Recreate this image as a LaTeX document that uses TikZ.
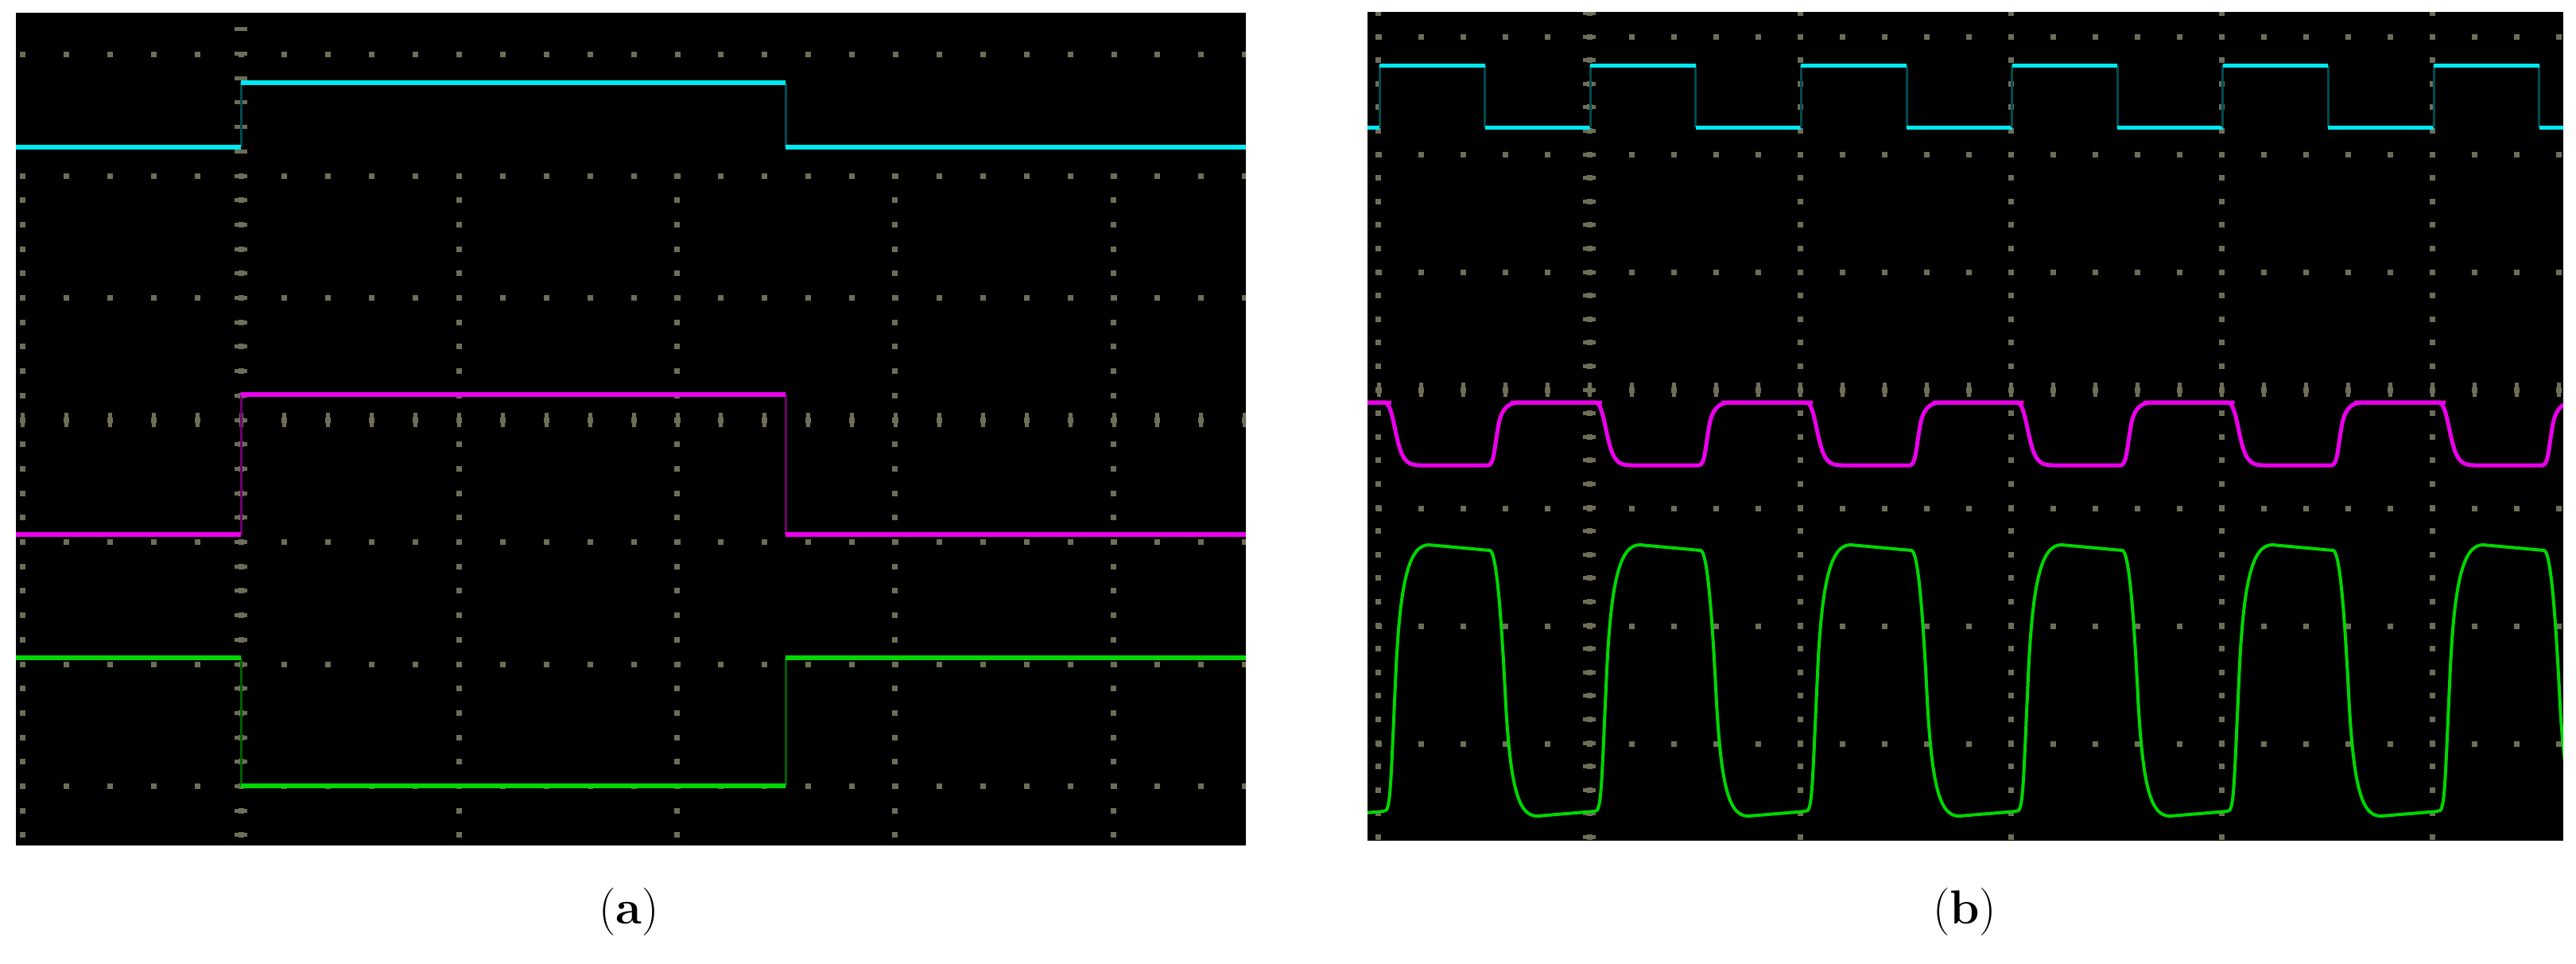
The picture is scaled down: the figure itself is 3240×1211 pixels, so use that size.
\documentclass[tikz,border=0pt]{standalone}
\begin{document}
\begin{tikzpicture}[x=1pt,y=-1pt,
  tcyan/.style={draw=cyanc,line width=6pt},
  tmag/.style={draw=magc,line width=6pt},
  tgreen/.style={draw=greenc,line width=6pt},
  tdim/.style={line width=3pt},
  lbl/.style={font=\fontsize{60}{66}\selectfont,inner sep=0pt}]
\definecolor{gridc}{RGB}{110,110,88}
\definecolor{cyanc}{RGB}{0,232,240}
\definecolor{magc}{RGB}{235,0,235}
\definecolor{greenc}{RGB}{0,215,0}
\definecolor{cyand}{RGB}{0,75,80}
\definecolor{magd}{RGB}{110,0,110}
\definecolor{greend}{RGB}{0,95,0}
\useasboundingbox (0,0) rectangle (3240,1211);
\fill[white] (0,0) rectangle (3240,1211);
% ---------- panel (a) ----------
\node[fill=black,minimum width=1547pt,minimum height=1047pt,inner sep=0pt,anchor=north west] (pa) at (20,16) {};
\begin{scope}
\clip (20,16) rectangle (1567,1063);
\foreach \y in {68,221,374,528,681,835,988}
  \foreach \i in {-6,...,30} \fill[gridc] ({303+54.9*\i-3.5},\y-3.5) rectangle +(7,7);
\foreach \x in {28,303,577,851,1125,1400}
  \foreach \j in {-10,...,36} \fill[gridc] (\x-3.5,{528+30.7*\j-3.5}) rectangle +(7,7);
\foreach \j in {-20,...,20} \fill[gridc] (295,{528+30.7*\j-2.5}) rectangle +(16,5);
\foreach \i in {-6,...,30} \fill[gridc] ({303+54.9*\i-2.5},519) rectangle +(5,18);
% traces
\draw[cyand,tdim] (303,185) -- (303,104) (988,104) -- (988,185);
\draw[magd,tdim] (303,672) -- (303,496) (988,496) -- (988,672);
\draw[greend,tdim] (303,827) -- (303,988) (988,988) -- (988,827);
\draw[tcyan] (20,185) -- (303,185) (303,104) -- (988,104) (988,185) -- (1567,185);
\draw[tmag] (20,672) -- (303,672) (303,496) -- (988,496) (988,672) -- (1567,672);
\draw[tgreen] (20,827) -- (303,827) (303,988) -- (988,988) (988,827) -- (1567,827);
\end{scope}
\node[lbl] (la) at (791,1147) {(\textbf{a})};
% ---------- panel (b) ----------
\node[fill=black,minimum width=1504pt,minimum height=1042pt,inner sep=0pt,anchor=north west] (pb) at (1720,15) {};
\begin{scope}
\clip (1720,15) rectangle (3224,1057);
\foreach \y in {46,194,342,490,639,787,935}
  \foreach \i in {-6,...,30} \fill[gridc] ({1999+53*\i-3.5},\y-3.5) rectangle +(7,7);
\foreach \x in {1733,1999,2264,2529,2794,3059}
  \foreach \j in {-17,...,20} \fill[gridc] (\x-3.5,{490+29.6*\j-3.5}) rectangle +(7,7);
\foreach \j in {-17,...,20} \fill[gridc] (1991,{490+29.6*\j-2.5}) rectangle +(16,5);
\foreach \i in {-6,...,30} \fill[gridc] ({1999+53*\i-2.5},481) rectangle +(5,18);
% cyan square wave
\foreach \k in {0,...,5} {
  \pgfmathsetmacro{\r}{1735+265.2*\k}
  \pgfmathsetmacro{\f}{\r+132.6}
  \draw[cyand,tdim] (\r,160) -- (\r,82) (\f,82) -- (\f,160);
  \draw[tcyan,line width=5pt] (\r,82) -- (\f,82) (\f,160) -- (\r+265.2,160);
}
\draw[tcyan,line width=5pt] (1715,160) -- (1735,160);
% magenta
\foreach \k in {-1,...,5} {
  \pgfmathsetmacro{\r}{1735+265.2*\k}
  \pgfmathsetmacro{\f}{\r+132.6}
  \draw[tmag,line width=5pt,line join=round] (\r-100,506) -- (\r+6,506)
    .. controls (\r+16,506) and (\r+18,540) .. (\r+26,565)
    .. controls (\r+32,583) and (\r+40,585) .. (\r+52,585) -- (\f+4,585)
    .. controls (\f+12,585) and (\f+12,560) .. (\f+18,530)
    .. controls (\f+23,510) and (\f+32,506) .. (\f+46,506) -- (\r+280,506);
}
% green
\foreach \k in {-1,...,5} {
  \pgfmathsetmacro{\r}{1735+265.2*\k}
  \pgfmathsetmacro{\f}{\r+132.6}
  \draw[tgreen,line width=4pt,line join=round] (\r+6,1020)
    .. controls (\r+14,1020) and (\r+14,990) .. (\r+20,860)
    .. controls (\r+25,740) and (\r+35,685) .. (\r+62,685)
    -- (\f+6,692)
    .. controls (\f+14,692) and (\f+20,760) .. (\f+26,880)
    .. controls (\f+32,990) and (\f+42,1026) .. (\f+66,1026)
    -- (\r+265.2+6,1020);
}
\end{scope}
\node[lbl] (lb) at (2471,1147) {(\textbf{b})};
\end{tikzpicture}
\end{document}
